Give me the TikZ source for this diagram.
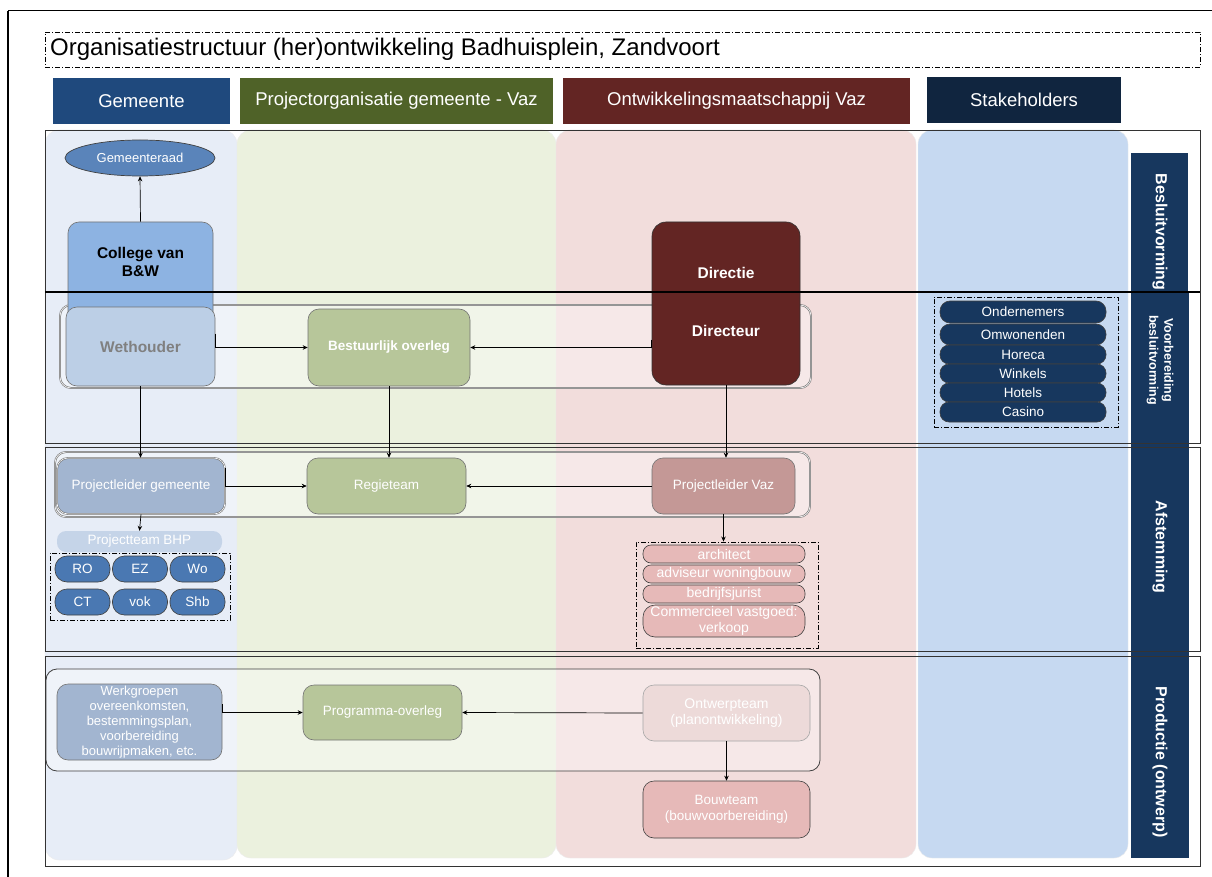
\documentclass[tikz,border=0pt]{standalone}
\usepackage{fontspec}
\setmainfont{Liberation Sans}
\usetikzlibrary{arrows.meta,shapes.geometric}
\definecolor{hGem}{HTML}{1F497D}
\definecolor{hPro}{HTML}{4F6228}
\definecolor{hVaz}{HTML}{632523}
\definecolor{hSta}{HTML}{10253F}
\definecolor{cGem}{HTML}{E7EDF7}
\definecolor{cPro}{HTML}{EBF1DE}
\definecolor{cVaz}{HTML}{F2DDDC}
\definecolor{cSta}{HTML}{C6D9F1}
\definecolor{strip}{HTML}{17375E}
\definecolor{fCol}{HTML}{8DB3E2}
\definecolor{fWet}{HTML}{BCCFE6}
\definecolor{fRaad}{HTML}{5A84BA}
\definecolor{fGreen}{HTML}{B7C69A}
\definecolor{fPlg}{HTML}{A2B5D0}
\definecolor{fBhp}{HTML}{C5D4E8}
\definecolor{fPill}{HTML}{4A78B2}
\definecolor{fPlv}{HTML}{C49896}
\definecolor{fVp}{HTML}{E6B9B8}
\definecolor{fOnt}{HTML}{EDDAD9}
\tikzset{
  hdr/.style={rectangle, minimum height=46pt, text=white, inner sep=0pt, font=\fontsize{18.5}{20}\selectfont},
  colbg/.style={rounded corners=14pt, draw=white!85!gray, line width=0.4pt},
  frm/.style={draw=black!80, line width=0.9pt},
  grp/.style={rounded corners=11pt, draw=black!60, double=white!85!gray, double distance=0.8pt, line width=0.5pt, fill=white, fill opacity=0.35, draw opacity=1},
  grpsingle/.style={rounded corners=11pt, draw=black!75, line width=0.8pt, fill=white, fill opacity=0.35, draw opacity=1},
  box/.style={rectangle, rounded corners=11pt, draw=black!55, line width=0.6pt, text=white, align=center, inner sep=1pt, font=\fontsize{13.5}{15}\selectfont},
  pill/.style={rectangle, rounded corners=10pt, draw=black!75, line width=0.6pt, text=white, align=center, inner sep=0pt, font=\fontsize{13.5}{14}\selectfont},
  dd/.style={draw=black, dash pattern=on 5pt off 2pt on 1pt off 2pt, line width=0.9pt},
  arr/.style={-{Stealth[length=5pt,width=4.5pt]}, line width=0.7pt, draw=black},
  lbl/.style={text=white, rotate=-90, align=center, inner sep=0pt, font=\bfseries\fontsize{16}{18}\selectfont},
  txt/.style={inner sep=0pt, align=center}
}
\begin{document}
\begin{tikzpicture}[x=1pt,y=-1pt]
\useasboundingbox (0,0) rectangle (1212,877);
\fill[white] (0,0) rectangle (1212,877);
% page border
\draw[line width=2pt] (8,877) -- (8,11);
\draw[line width=1pt] (8,11) -- (1212,11);
% title
\node[dd, rectangle, minimum width=1155pt, minimum height=35pt, inner sep=0pt] (titlebox) at (622.5,49.5) {};
\node[anchor=west, inner sep=0pt, font=\fontsize{24}{26}\selectfont] (title) at (50,49.5) {Organisatiestructuur (her)ontwikkeling Badhuisplein, Zandvoort};
% headers
\node[hdr, fill=hGem, minimum width=177pt] (hgem) at (141.5,101) {Gemeente};
\node[hdr, fill=hPro, minimum width=313pt] (hpro) at (396.5,101) {Projectorganisatie gemeente - Vaz};
\node[hdr, fill=hVaz, minimum width=347pt] (hvaz) at (736.5,101) {Ontwikkelingsmaatschappij Vaz};
\node[hdr, fill=hSta, minimum width=194pt] (hsta) at (1024,100) {Stakeholders};
% column backgrounds
\draw[colbg, fill=cGem] (45,130) rectangle (237,860);
\draw[colbg, fill=cPro] (237,130) rectangle (556,858);
\draw[colbg, fill=cVaz] (556,130) rectangle (916,858);
\draw[colbg, fill=cSta] (918,130) rectangle (1128,858);
% right strip
\fill[strip] (1131,153) rectangle (1188,292);
\fill[strip] (1131,292) rectangle (1189,858);
\node[lbl] (lbesl) at (1160,232) {Besluitvorming};
\node[lbl, font=\bfseries\fontsize{12.5}{15}\selectfont] (lvoor) at (1160,360) {Voorbereiding\\besluitvorming};
\node[lbl] (lafst) at (1160,547) {Afstemming};
\node[lbl] (lprod) at (1160,762) {Productie (ontwerp)};
% section frames
\draw[frm] (45,130) rectangle (1200,443);
\draw[frm] (45,447) rectangle (1200,651);
\draw[frm] (45,656) rectangle (1200,866);
% groups
\draw[grp] (60,305) rectangle (811,388);
\draw[grp] (55,452) rectangle (810,517);
\draw[grpsingle] (46,669) rectangle (820,771);
% section 1
\node[ellipse, draw=black!75, line width=0.7pt, fill=fRaad, minimum width=150pt, minimum height=36pt, inner sep=0pt, text=white, font=\fontsize{13}{14}\selectfont] (raad) at (140,158) {Gemeenteraad};
\node[box, fill=fCol, minimum width=145pt, minimum height=108pt] (college) at (140.5,276) {};
\node[txt, font=\bfseries\fontsize{15.5}{18}\selectfont] (collegetxt) at (140.5,262) {College van\\B\&W};
\node[box, fill=fWet, minimum width=149pt, minimum height=79pt, text=black!50, font=\bfseries\fontsize{15.5}{17}\selectfont] (weth) at (140.5,346.5) {Wethouder};
\node[box, fill=fGreen, minimum width=162pt, minimum height=77pt, font=\bfseries\fontsize{13.5}{15}\selectfont] (bestuur) at (389,347.5) {Bestuurlijk overleg};
\node[box, fill=hVaz, draw=black!80, minimum width=148pt, minimum height=163pt, rounded corners=14pt] (dir) at (726,303.5) {};
\node[txt, text=white, font=\bfseries\fontsize{15.5}{17}\selectfont] (dirtxt1) at (726,273) {Directie};
\node[txt, text=white, font=\bfseries\fontsize{15.5}{17}\selectfont] (dirtxt2) at (726,331) {Directeur};
% stakeholders
\node[dd, rectangle, minimum width=184pt, minimum height=130pt, inner sep=0pt] (stabox) at (1026,362) {};
\node[pill, fill=strip, minimum width=166pt, minimum height=22pt] (s1) at (1023,312) {Ondernemers};
\node[pill, fill=strip, minimum width=166pt, minimum height=21pt] (s2) at (1023,334.5) {Omwonenden};
\node[pill, fill=strip, minimum width=166pt, minimum height=19pt, rounded corners=9pt] (s3) at (1023,354.5) {Horeca};
\node[pill, fill=strip, minimum width=166pt, minimum height=19pt, rounded corners=9pt] (s4) at (1023,373.5) {Winkels};
\node[pill, fill=strip, minimum width=166pt, minimum height=19pt, rounded corners=9pt] (s5) at (1023,392.5) {Hotels};
\node[pill, fill=strip, minimum width=166pt, minimum height=20pt, rounded corners=9pt] (s6) at (1023,412) {Casino};
% thick line
\draw[line width=1.7pt] (45,292) -- (1200,292);
% section 2
\node[box, fill=fPlg, minimum width=168pt, minimum height=56pt, double=white, double distance=0.6pt] (plg) at (141,486) {Projectleider gemeente};
\node[box, fill=fGreen, minimum width=159pt, minimum height=56pt] (regie) at (386.5,486) {Regieteam};
\node[box, fill=fPlv, minimum width=143pt, minimum height=56pt] (plv) at (723.5,486) {Projectleider Vaz};
\node[rectangle, rounded corners=9pt, fill=fBhp, minimum width=165pt, minimum height=21pt, inner sep=0pt, text=white, font=\fontsize{13.5}{14}\selectfont] (bhp) at (139.5,541.5) {Projectteam BHP};
\node[dd, rectangle, minimum width=180pt, minimum height=67pt, inner sep=0pt] (gembox) at (140,586.5) {};
\node[pill, fill=fPill, minimum width=55pt, minimum height=26pt, rounded corners=12pt] (ro) at (82.5,569) {RO};
\node[pill, fill=fPill, minimum width=55pt, minimum height=26pt, rounded corners=12pt] (ez) at (140,569) {EZ};
\node[pill, fill=fPill, minimum width=55pt, minimum height=26pt, rounded corners=12pt] (wo) at (197.5,569) {Wo};
\node[pill, fill=fPill, minimum width=55pt, minimum height=26pt, rounded corners=12pt] (ct) at (82.5,602) {CT};
\node[pill, fill=fPill, minimum width=55pt, minimum height=26pt, rounded corners=12pt] (vok) at (140,602) {vok};
\node[pill, fill=fPill, minimum width=55pt, minimum height=26pt, rounded corners=12pt] (shb) at (197.5,602) {Shb};
\node[dd, rectangle, minimum width=182pt, minimum height=106pt, inner sep=0pt] (vazbox) at (727,595) {};
\node[pill, fill=fVp, minimum width=162pt, minimum height=18pt, rounded corners=8pt, font=\fontsize{14}{14}\selectfont] (v1) at (724,554) {architect};
\node[pill, fill=fVp, minimum width=162pt, minimum height=18pt, rounded corners=8pt, font=\fontsize{14}{14}\selectfont] (v2) at (724,574) {adviseur woningbouw};
\node[pill, fill=fVp, minimum width=162pt, minimum height=18pt, rounded corners=8pt, font=\fontsize{14}{14}\selectfont] (v3) at (724,594) {bedrijfsjurist};
\node[pill, fill=fVp, minimum width=162pt, minimum height=32pt, rounded corners=12pt, font=\fontsize{14}{15.5}\selectfont] (v4) at (724,621) {Commercieel vastgoed:\\verkoop};
% section 3
\node[box, fill=fPlg, minimum width=165pt, minimum height=76pt, font=\fontsize{13}{15}\selectfont] (werk) at (139.5,722) {Werkgroepen\\overeenkomsten,\\bestemmingsplan,\\voorbereiding\\bouwrijpmaken, etc.};
\node[box, fill=fGreen, minimum width=159pt, minimum height=55pt] (prog) at (382.5,712.5) {Programma-overleg};
\node[box, fill=fOnt, draw=black!35, minimum width=167pt, minimum height=56pt, font=\fontsize{14}{16}\selectfont] (ontwerp) at (726.5,713) {Ontwerpteam\\(planontwikkeling)};
\node[box, fill=fVp, draw=black!75, minimum width=167pt, minimum height=57pt, font=\fontsize{13.5}{16}\selectfont] (bouw) at (726.5,809.5) {Bouwteam\\(bouwvoorbereiding)};
% connectors
\draw[arr] (college.north) -- (raad.south);
\draw[arr] ([yshift=13pt]weth.east) |- (bestuur.west);
\draw[arr] ([yshift=8pt]dir.west |- bestuur.east) -- (dir.west |- bestuur.east) -- (bestuur.east);
\draw[arr] (weth.south) -- (weth.south |- plg.north);
\draw[arr] (bestuur.south) -- (bestuur.south |- regie.north);
\draw[arr] (dir.south) -- (dir.south |- plv.north);
\draw[arr] ([yshift=18pt]plg.east) |- (regie.west);
\draw[arr] (plv.west) -- (regie.east);
\draw[arr] (plg.south) -- (bhp.north);
\draw[arr] (plv.south) -- (plv.south |- vazbox.north);
\draw[arr] ([yshift=18pt]werk.east) |- (prog.west);
\draw[arr] (ontwerp.west) -- (prog.east);
\draw[arr] (ontwerp.south) -- (bouw.north);
\end{tikzpicture}
\end{document}
